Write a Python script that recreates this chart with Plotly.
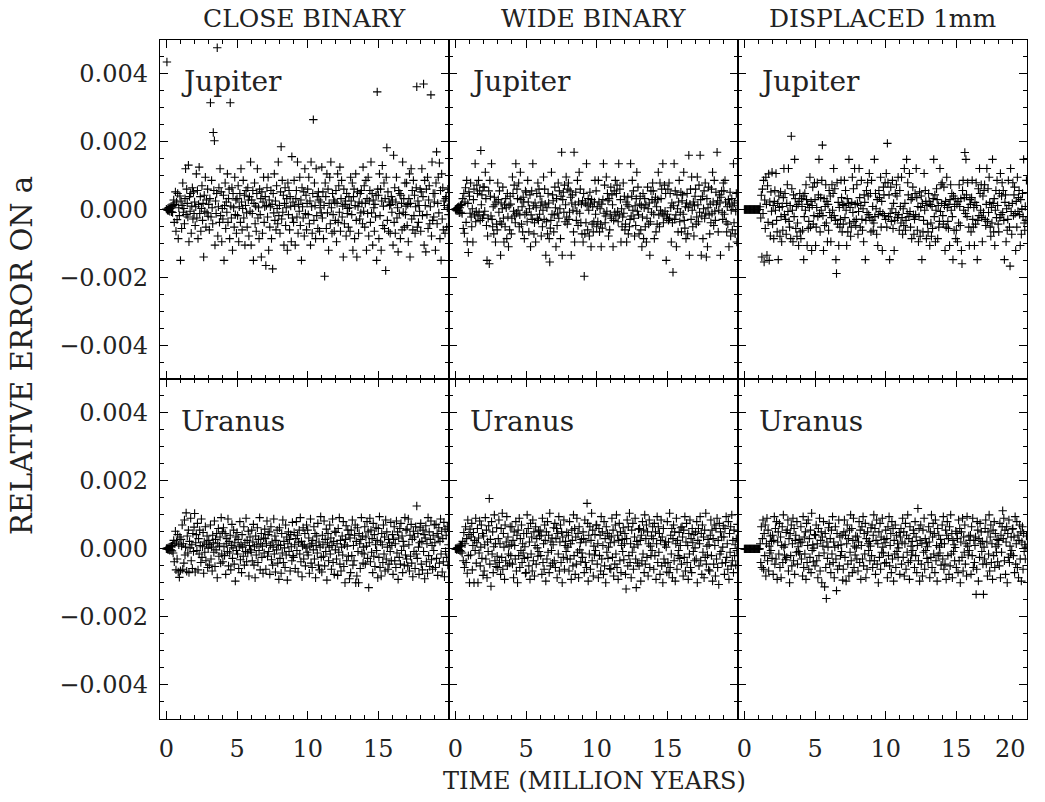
import plotly.graph_objects as go

# ---------------- data (time in Myr, errors in units of 1e-5) ----------------
TIME = [
    0.0, 0.04, 0.08, 0.12, 0.16, 0.2, 0.24, 0.28, 0.32, 0.36, 0.4, 0.44, 0.48, 0.52, 0.56, 0.6, 0.64, 0.68, 0.72, 0.76, 0.8, 0.84, 0.88, 0.92, 0.96,
    1.0, 1.04, 1.08, 1.12, 1.16, 1.2, 1.24, 1.28, 1.32, 1.36, 1.4, 1.44, 1.48, 1.52, 1.56, 1.6, 1.64, 1.68, 1.72, 1.76, 1.8, 1.84, 1.88, 1.92, 1.96,
    2.0, 2.04, 2.08, 2.12, 2.16, 2.2, 2.24, 2.28, 2.32, 2.36, 2.4, 2.44, 2.48, 2.52, 2.56, 2.6, 2.64, 2.68, 2.72, 2.76, 2.8, 2.84, 2.88, 2.92, 2.96,
    3.0, 3.04, 3.08, 3.12, 3.16, 3.2, 3.24, 3.28, 3.32, 3.36, 3.4, 3.44, 3.48, 3.52, 3.56, 3.6, 3.64, 3.68, 3.72, 3.76, 3.8, 3.84, 3.88, 3.92, 3.96,
    4.0, 4.04, 4.08, 4.12, 4.16, 4.2, 4.24, 4.28, 4.32, 4.36, 4.4, 4.44, 4.48, 4.52, 4.56, 4.6, 4.64, 4.68, 4.72, 4.76, 4.8, 4.84, 4.88, 4.92, 4.96,
    5.0, 5.04, 5.08, 5.12, 5.16, 5.2, 5.24, 5.28, 5.32, 5.36, 5.4, 5.44, 5.48, 5.52, 5.56, 5.6, 5.64, 5.68, 5.72, 5.76, 5.8, 5.84, 5.88, 5.92, 5.96,
    6.0, 6.04, 6.08, 6.12, 6.16, 6.2, 6.24, 6.28, 6.32, 6.36, 6.4, 6.44, 6.48, 6.52, 6.56, 6.6, 6.64, 6.68, 6.72, 6.76, 6.8, 6.84, 6.88, 6.92, 6.96,
    7.0, 7.04, 7.08, 7.12, 7.16, 7.2, 7.24, 7.28, 7.32, 7.36, 7.4, 7.44, 7.48, 7.52, 7.56, 7.6, 7.64, 7.68, 7.72, 7.76, 7.8, 7.84, 7.88, 7.92, 7.96,
    8.0, 8.04, 8.08, 8.12, 8.16, 8.2, 8.24, 8.28, 8.32, 8.36, 8.4, 8.44, 8.48, 8.52, 8.56, 8.6, 8.64, 8.68, 8.72, 8.76, 8.8, 8.84, 8.88, 8.92, 8.96,
    9.0, 9.04, 9.08, 9.12, 9.16, 9.2, 9.24, 9.28, 9.32, 9.36, 9.4, 9.44, 9.48, 9.52, 9.56, 9.6, 9.64, 9.68, 9.72, 9.76, 9.8, 9.84, 9.88, 9.92, 9.96,
    10.0, 10.04, 10.08, 10.12, 10.16, 10.2, 10.24, 10.28, 10.32, 10.36, 10.4, 10.44, 10.48, 10.52, 10.56, 10.6, 10.64, 10.68, 10.72, 10.76, 10.8, 10.84, 10.88, 10.92, 10.96,
    11.0, 11.04, 11.08, 11.12, 11.16, 11.2, 11.24, 11.28, 11.32, 11.36, 11.4, 11.44, 11.48, 11.52, 11.56, 11.6, 11.64, 11.68, 11.72, 11.76, 11.8, 11.84, 11.88, 11.92, 11.96,
    12.0, 12.04, 12.08, 12.12, 12.16, 12.2, 12.24, 12.28, 12.32, 12.36, 12.4, 12.44, 12.48, 12.52, 12.56, 12.6, 12.64, 12.68, 12.72, 12.76, 12.8, 12.84, 12.88, 12.92, 12.96,
    13.0, 13.04, 13.08, 13.12, 13.16, 13.2, 13.24, 13.28, 13.32, 13.36, 13.4, 13.44, 13.48, 13.52, 13.56, 13.6, 13.64, 13.68, 13.72, 13.76, 13.8, 13.84, 13.88, 13.92, 13.96,
    14.0, 14.04, 14.08, 14.12, 14.16, 14.2, 14.24, 14.28, 14.32, 14.36, 14.4, 14.44, 14.48, 14.52, 14.56, 14.6, 14.64, 14.68, 14.72, 14.76, 14.8, 14.84, 14.88, 14.92, 14.96,
    15.0, 15.04, 15.08, 15.12, 15.16, 15.2, 15.24, 15.28, 15.32, 15.36, 15.4, 15.44, 15.48, 15.52, 15.56, 15.6, 15.64, 15.68, 15.72, 15.76, 15.8, 15.84, 15.88, 15.92, 15.96,
    16.0, 16.04, 16.08, 16.12, 16.16, 16.2, 16.24, 16.28, 16.32, 16.36, 16.4, 16.44, 16.48, 16.52, 16.56, 16.6, 16.64, 16.68, 16.72, 16.76, 16.8, 16.84, 16.88, 16.92, 16.96,
    17.0, 17.04, 17.08, 17.12, 17.16, 17.2, 17.24, 17.28, 17.32, 17.36, 17.4, 17.44, 17.48, 17.52, 17.56, 17.6, 17.64, 17.68, 17.72, 17.76, 17.8, 17.84, 17.88, 17.92, 17.96,
    18.0, 18.04, 18.08, 18.12, 18.16, 18.2, 18.24, 18.28, 18.32, 18.36, 18.4, 18.44, 18.48, 18.52, 18.56, 18.6, 18.64, 18.68, 18.72, 18.76, 18.8, 18.84, 18.88, 18.92, 18.96,
    19.0, 19.04, 19.08, 19.12, 19.16, 19.2, 19.24, 19.28, 19.32, 19.36, 19.4, 19.44, 19.48, 19.52, 19.56, 19.6, 19.64, 19.68, 19.72, 19.76, 19.8, 19.84, 19.88, 19.92, 19.96,
]

CLOSE_JUPITER = [
    1, 435, -2, 4, -3, 6, -5, 3, 8, -7, 10, -9, 12, 28, -38, 15, 52, -64, 22, -30, 47, -86, 5, -18, 40,
    -150, 25, -56, 12, 78, -8, 3, -42, 32, 120, -15, 60, 18, -22, 131, -95, 38, -5, 47, -70, 10, 64, -28, 52, -12,
    22, -47, 8, 105, -25, 56, -86, 15, 125, -12, 38, -64, 3, 70, -32, 18, -140, 42, -5, 95, -52, 28, -10, 60, -20,
    15, -60, 32, 315, -22, 86, 5, -42, 227, 56, 203, -105, 25, -12, 47, 477, -78, 8, 64, -38, 120, -18, 52, -95, 3,
    -28, 42, -150, 12, 78, -56, 22, -8, 105, -38, 32, 60, -86, 315, 10, -25, 64, -120, 47, 5, -52, 95, -15, 28, -70,
    32, -18, 70, -95, 8, 47, -38, 120, 22, -60, 3, 86, -25, 42, -105, 12, 56, -10, -52, 64, 28, -78, 38, -5, 140,
    -105, 28, -12, 56, -150, 18, 78, -42, 10, -64, 47, 120, -25, 5, -86, 60, -15, 32, -140, 52, -70, 22, 95, -38, 8,
    38, -165, 12, 64, -22, 95, -120, 28, -52, 8, 56, -86, 15, -175, 47, -10, 105, -32, 25, -60, 70, 3, -42, 140, -18,
    12, -70, 52, 185, -28, 86, -8, 42, -105, 18, 64, -47, 5, 32, -120, 78, -15, 56, -60, 38, 10, -95, 156, -25, 22,
    -38, 86, 10, -105, 32, 56, -22, 140, -70, 15, -5, 95, -47, 28, -150, 64, 8, -25, 52, -78, 120, -12, 42, -60, 18,
    60, -15, 95, -42, 25, -105, 140, 8, -70, 47, 265, -32, 78, 12, -86, 120, -18, 38, -56, 52, 28, -64, 5, 22, -10,
    125, -25, 52, -86, 12, -197, 78, 38, -56, 105, -10, 60, -120, 18, 95, -42, 140, 5, -70, 47, -15, 28, -64, 22, -32,
    56, -95, 18, 105, -38, 70, -8, 125, -64, 32, 86, -22, 10, -140, 60, -42, 15, 25, -78, 47, -12, 3, -52, 38, 5,
    -64, 95, 25, -15, 78, -120, 38, 60, -86, 12, 105, -32, -140, 52, 8, -70, 22, -28, 47, -10, 56, 18, -42, 125, -5,
    70, -52, 18, 86, -120, 32, -12, 95, -78, 25, 56, -38, 140, -10, 47, -105, 28, 5, -64, 15, -22, 42, -150, 347, 60,
    42, -86, 105, -18, 60, -120, 25, 130, -47, 10, 78, -56, 32, -180, 95, 182, -32, 52, -64, 22, 12, -70, 15, 38, -8,
    28, -105, 160, -38, 64, -70, 22, 95, -25, 5, -125, 56, -12, 47, -86, 42, 18, -60, 140, -8, 32, -52, 78, -15, 10,
    78, -47, 15, -95, 32, 105, -140, 18, 120, -28, 56, -60, 86, -18, 42, -70, 8, 64, 362, -52, 25, -38, 12, -5, 60,
    -64, 52, 120, -18, 38, 370, -105, 86, 12, -125, 60, -15, 95, -56, 28, 70, -42, 8, 338, -78, 140, -32, 47, -22, 22,
    47, -120, 78, 170, -42, 18, 95, -10, 137, -86, 56, -150, 105, -28, 64, -60, 25, 12, -70, 32, 38, -52, 5, 60, -15,
]

WIDE_JUPITER = [
    1, -2, 3, -4, 6, -3, 8, -10, 5, 12, -8, 15, -12, 32, -56, 47, -70, 22, 64, -38, 86, -95, 18, -127, 52,
    39, -11, 78, -22, -51, 2, -96, 29, 60, -16, 135, -36, -5, 72, 47, -19, 86, -8, 55, -32, 174, 14, 43, -26, 66,
    -16, 66, -5, 110, 32, -47, -150, -78, -26, 55, -160, 86, 39, -19, 135, -29, -51, 8, -72, 36, 14, -96, 22, -43, -60,
    78, 29, -8, 55, -36, -135, 19, -43, 2, 66, -26, -96, 14, -51, 32, 5, -86, 47, -22, -110, 11, -60, 39, 16, -72,
    -26, 96, 47, -5, 72, -19, -39, 135, -11, 60, 32, -2, 78, -51, -16, 110, 29, -43, 8, -66, 36, 22, -86, -14, 55,
    51, -8, -36, 86, 22, -66, 2, 43, -110, -16, 55, -29, 135, 11, -72, -39, 19, -96, 5, 47, -26, 78, -32, 60, -14,
    39, 11, -78, 22, -51, -2, 96, -29, 60, 16, -135, -36, 5, -72, 47, 19, -86, -155, -55, -32, 110, -14, 43, 26, -66,
    -16, 66, 5, -110, 32, -47, -11, 78, -26, 55, 2, -86, 39, 169, -135, 29, 51, -8, 72, -36, 14, 96, -22, -43, 60,
    78, -29, -8, 55, 36, -135, 19, 43, -2, -66, 169, -96, 14, 51, -32, -5, 86, -47, 22, 110, -11, 60, -39, 16, -72,
    26, -96, 47, -197, -72, 19, -39, 135, 11, -60, 32, -2, -78, 51, 16, -110, 29, -43, 8, -66, -36, 22, 86, -14, 55,
    -51, 8, -36, 86, 22, -66, 2, -43, -110, 16, -55, 29, 135, -11, 72, -39, -19, 96, -5, 47, 26, -78, 32, -60, -14,
    66, -26, 43, 14, -110, -32, 55, -8, 86, -19, 47, 72, -5, -36, 135, -16, 60, 29, -96, 2, -51, -22, 78, -11, 39,
    -60, -43, 22, -96, 14, 36, -72, 8, -51, -29, 135, -19, 39, 86, -2, 55, -26, -78, 11, -47, 32, 110, -5, 66, -16,
    -72, 16, 39, -60, 11, -110, -22, 47, -86, 5, 32, -51, 14, -96, -26, 66, 2, -43, 19, -135, -36, 55, -8, 29, 78,
    55, -14, -86, 22, 36, -66, 8, -43, 29, 110, -16, -51, 78, -2, 32, 60, -11, 135, -39, -19, 72, -5, 47, -150, -26,
    -14, 60, -32, 78, -26, 47, 5, -96, 19, -39, -185, 11, 135, -29, 55, -16, -110, 43, 2, -66, 22, 86, -36, -8, 51,
    -66, 26, 43, -14, 110, -32, -55, 8, -86, 19, 47, -72, 5, 160, -135, 16, 60, -29, 96, -2, -51, 22, -78, 11, 39,
    60, -43, -22, 96, 14, -36, 72, -8, 160, 29, -135, -19, 39, -86, 2, 55, -26, 78, -11, -140, 32, -110, 5, 66, -16,
    -72, 16, -39, 60, -11, 110, 22, -47, 86, -5, -32, 51, 14, 169, 26, -66, -2, 43, 19, -135, 36, 55, -8, -29, 78,
    55, -14, 86, 22, -36, -66, 8, -43, 29, -110, 16, 51, -78, -2, 32, -60, 11, 135, -39, 19, -72, -5, 47, -96, 26,
]

DISPLACED_JUPITER = [
    0, 0, 0, 0, 0, 0, 0, 0, 0, 0, 0, 0, 0, 0, 0, 0, 0, 0, 0, 0, 0, 0, 0, 0, 0,
    0, 0, 0, 8, -25, 42, -140, 60, -12, 86, -155, 28, -56, 95, 15, -135, 70, -38, 105, -150, 22, -78, 52, -5, 110,
    -43, 12, -86, 24, 56, -2, 106, -32, -66, 18, -148, 40, 6, -79, 52, -21, -95, 9, -61, 35, 121, -15, 47, -29, -73,
    18, 73, -6, 121, -35, -52, 12, -86, 216, 61, -2, -95, 43, -21, 148, 32, -56, 9, -79, -40, 15, -106, 24, 47, -66,
    -86, 32, 9, -61, 40, -148, -21, 47, -2, 73, 29, -106, 15, -56, -35, 6, 95, -52, 24, -121, 12, 66, -43, -18, 79,
    29, -106, -52, 6, 79, -21, 43, 148, -12, -66, 35, -2, 86, 190, -18, -121, 32, -47, 9, 73, -40, 24, -95, 15, -61,
    56, -9, 40, -95, -24, 73, -2, 47, 121, -18, 61, -32, -148, -189, 79, -43, 21, -106, 6, -52, -29, 86, 35, -66, 15,
    -43, 12, 86, -24, 56, -2, -106, 32, -66, 18, 148, -40, 6, -79, -52, 21, 95, -9, 61, -35, 121, 15, -47, -29, 73,
    18, -73, -6, 121, 35, -52, 12, 86, -29, -61, 2, -95, 43, 21, -148, -32, 56, -9, 79, 40, -15, 106, -24, 47, -66,
    86, -32, 9, -61, -40, 148, -21, 47, 2, -73, 29, -106, -15, 56, 35, -6, 95, -52, 24, -121, -12, 66, 43, -18, 79,
    -29, 106, -52, 195, 79, -21, 43, -148, -12, 66, -35, 2, 86, -56, 18, -121, -32, 47, -9, 73, 40, -24, 95, -15, -61,
    56, 9, -40, 95, -24, -73, 2, -47, 121, 18, -61, -32, 148, -12, 79, 43, -21, 106, -6, -52, 29, -86, 35, 66, -15,
    -73, -29, 47, -15, 121, 35, -61, 9, -95, -21, 52, -79, 6, 40, -148, 18, -66, -32, 106, -2, 56, 24, -86, 12, -43,
    -66, 47, 24, -106, 15, -40, -79, 9, -56, 32, 148, -21, 43, -95, -2, 61, 29, -86, 12, -52, -35, 121, -6, 73, 18,
    79, -18, -43, 66, 12, -121, 24, -52, 95, 6, -35, -56, 15, -106, 29, 73, -2, 47, -21, -148, 40, -61, 9, 32, -86,
    -61, 15, -95, 24, -40, 73, 9, -47, 32, -121, -160, 56, 86, -2, 35, 168, -12, 148, 43, -21, 79, 6, -52, -106, 29,
    15, -66, 35, 86, -29, -52, 6, -106, 21, -43, 79, 12, -148, -32, 61, -18, 121, 47, -2, 73, -24, -95, 40, -9, 56,
    73, -29, -47, 15, 121, -35, 61, -9, 95, 21, -52, -79, 6, -40, 148, 18, -66, 32, -106, -2, 56, -24, 86, 12, -43,
    -66, 47, -24, 106, -15, 40, 79, -9, 56, -32, -148, 21, 43, -95, 2, -61, -29, 86, 12, -52, -167, 121, -6, -73, 18,
    79, -18, 43, 66, -12, -121, 24, -52, 95, -6, 35, 56, -15, -106, 29, -73, 2, 47, -21, 148, -40, -61, 9, -32, 86,
]

CLOSE_URANUS = [
    0, 2, -1, 3, -2, 5, -4, 6, -3, 8, -6, 10, -12, 25, -38, 15, 52, -62, 20, -30, 42, -68, 12, -84, 35,
    -64, 28, 8, 70, -60, 15, -42, 85, -18, 5, 106, -66, 38, -12, 55, -70, 22, 3, 90, -35, 12, -58, 45, -8, 64,
    104, -68, 18, 42, -5, 75, -62, 30, -15, 55, 10, -40, 88, -25, 6, 48, -72, 20, -10, 65, -35, 14, 38, -55, 2,
    25, -48, 12, 70, -30, 5, -65, 40, 18, -10, 82, -52, 28, -3, 45, -85, 15, 60, -22, 8, 35, -42, 92, -15, 50,
    -38, 62, 6, -20, 45, -75, 15, 30, -8, 88, -50, 22, -12, 40, -62, 10, 72, -28, 3, 55, -45, 18, -95, 35, -5,
    48, -15, 28, -58, 8, 80, -32, 12, -70, 42, 5, -22, 65, -48, 18, -8, 90, -38, 25, -12, 52, -80, 10, 35, -3,
    -10, 55, -35, 20, 72, -48, 6, -85, 38, -18, 12, 62, -40, 28, -5, 92, -62, 15, 45, -25, 8, -72, 32, -12, 58,
    30, -60, 15, 82, -22, 42, -8, 50, -75, 10, 65, -32, 20, -48, 5, 88, -15, 38, -68, 25, -3, 55, -42, 12, -90,
    62, -28, 10, -72, 45, -12, 85, -40, 22, 3, -55, 70, -18, 35, -92, 15, 50, -8, 28, -65, 42, 6, -35, 78, -20,
    -25, 48, 12, -58, 30, 80, -5, 40, -68, 18, 55, -15, 92, -38, 22, -82, 8, 62, -30, 12, 45, -50, 3, 70, -10,
    55, -18, 32, -72, 8, 88, -42, 15, -55, 25, -3, 65, -30, 45, -85, 10, 38, -12, 75, -48, 20, -62, 5, 95, -25,
    -68, 40, 12, -22, 82, -50, 28, -8, 58, -92, 18, 45, -35, 5, 70, -15, 32, -60, 10, 88, -40, 22, -75, 52, -3,
    48, -30, 15, -78, 60, -10, 92, -45, 25, -65, 5, 38, -18, 80, -52, 12, -100, 28, 68, -35, 8, 55, -22, 42, -88,
    32, -70, 55, -20, 85, -48, 10, -35, 40, 70, -100, 22, -80, 62, -8, -100, 45, 15, -58, 28, 92, -12, 38, -42, 5,
    -15, 65, -45, 35, 8, 80, -28, 50, -114, 18, 90, -38, 55, -10, 30, -70, 75, -22, 42, -52, 12, 62, -5, 25, -85,
    60, -25, 95, -55, 20, -80, 45, 12, -40, 70, -15, 35, -65, 85, -30, 50, 5, -60, 28, -45, 18, -8, 78, -35, 10,
    42, -75, 28, 65, -35, 15, -55, 82, -12, 50, -90, 32, -25, 60, -45, 75, -5, 38, -70, 22, 8, -48, 92, -18, 55,
    -30, 58, -50, 88, 12, -65, 40, -22, 72, -42, 28, -82, 52, -8, 35, -58, 65, -15, 126, -28, 45, 5, -75, 18, 62,
    75, -45, 22, -62, 55, -8, 42, -88, 32, 68, -38, 15, -72, 92, -20, 50, -52, 28, 82, -32, 10, -60, 40, -5, 70,
    18, -55, 72, -28, 45, -78, 35, 62, -42, 22, 88, -15, 52, -68, 30, -38, 78, -82, 58, -8, 40, -25, 65, -48, 12,
]

WIDE_URANUS = [
    0, 1, -2, 3, -1, 4, -3, 6, -5, 8, -7, 10, -12, 22, -35, 48, -55, 15, 65, -40, 30, -72, 85, -20, 42,
    -100, 58, -18, 35, 75, -62, 10, 48, -100, 25, -5, 90, -42, 18, 60, -100, 32, -12, 82, -50, 5, 70, -28, 45, -78,
    38, -65, 12, 92, -30, 55, -85, 20, -8, 68, 148, -45, 28, -110, 80, -15, 50, -70, 6, 100, -35, 15, -52, 62, -22,
    -55, 30, 85, -40, 15, -75, 60, -25, 105, -60, 45, 5, -90, 70, -35, 20, 95, -50, 35, -15, 8, -42, 65, -20, 12,
    65, -45, 25, -85, 50, 10, -30, 80, -65, 40, -100, 55, -20, 90, -55, 30, -5, 70, -40, 15, -12, 45, -28, 6, -72,
    -70, 45, 100, -25, 60, -50, 20, -90, 75, -15, 35, -65, 85, -35, 50, -80, 10, 65, -45, 30, 3, -22, 52, -8, 38,
    55, -20, 40, -75, 90, -40, 15, -60, 70, 25, -95, 50, -30, 80, -10, 40, -70, 105, -50, 20, -5, 32, -42, 12, 62,
    -35, 75, -55, 30, 60, -85, 45, -15, 95, -65, 20, 70, -40, 50, -100, 35, -25, 85, -60, 10, 22, -8, 48, -30, 5,
    40, -65, 80, -30, 15, -90, 55, 25, -50, 100, -20, 60, -75, 35, -45, 90, -10, 45, -85, 65, -3, 18, -38, 28, -12,
    -25, 50, 30, -70, 85, -40, 20, -55, 134, 75, -95, 40, -15, 65, -60, 25, 105, -35, 55, -80, 8, -18, 42, -5, 70,
    70, -45, 15, -85, 60, -20, 40, -65, 95, -30, 50, 10, -75, 80, -50, 30, -100, 65, -10, 45, -28, 5, 38, -58, 18,
    -60, 35, 90, -25, 55, -80, 20, -45, 70, -15, 100, -55, 40, -90, 25, 75, -35, 50, -70, 10, 28, -8, 62, -32, 15,
    45, -75, -118, 30, 85, -50, 65, -20, 105, -40, 15, -85, 55, -10, 75, -60, 5, 35, 90, -30, -114, 22, -42, 12, 58,
    -50, 60, 25, -95, 40, -35, 80, -15, 55, -70, 100, -45, 30, 70, -25, 50, -80, 15, 85, -55, 8, -20, 38, -5, 65,
    30, -60, 75, -20, 50, -90, 15, 95, -40, 65, -10, 45, -75, 25, 85, -50, 35, -100, 60, -30, 12, -42, 20, 5, -68,
    80, -40, 20, -70, 105, -55, 40, -15, 60, -85, 30, 70, -35, 50, -95, 15, 90, -60, 25, -20, -5, 48, -28, 10, 62,
    -45, 65, 35, -80, 55, -25, 95, -65, 20, 75, -40, 10, -90, 45, -15, 85, -55, 30, -70, 60, 18, -8, 42, -35, 3,
    50, -30, 80, -100, 25, 60, -50, 15, 95, -35, 45, -75, 70, -10, 35, -85, 55, -25, 105, -45, 8, -18, 28, -62, 12,
    -65, 40, 85, -20, 55, -95, 30, -45, 70, 10, -80, 60, -30, 90, -55, 25, -105, 75, -15, 50, -8, 35, -42, 5, 68,
    35, -75, 60, -40, 95, -25, 15, -60, 80, -90, 45, -10, 65, -50, 100, -35, 25, -70, 55, -20, 12, -48, 30, -5, 72,
]

DISPLACED_URANUS = [
    0, 0, 0, 0, 0, 0, 0, 0, 0, 0, 0, 0, 0, 0, 0, 0, 0, 0, 0, 0, 0, 0, 0, 0, 0,
    0, 0, 0, 15, -40, 65, -55, 30, 85, -60, 45, -20, 70, -80, 15, 90, -35, 55, -65, 8, -12, 38, -5, 22, -28,
    40, -75, 25, 95, -45, 60, -30, 80, -90, 20, 50, -15, 75, -55, 35, -85, 10, 65, -40, 100, 5, -18, 12, -32, 48,
    -25, 55, 85, -65, 30, -100, 45, -20, 70, -50, 15, 90, -35, 60, -75, 25, 40, -10, 80, -45, 6, -8, 28, -15, 18,
    65, -30, 20, -80, 95, -55, 35, -15, 50, -90, 75, -40, 10, 85, -60, 30, -25, 55, -70, 105, -5, 12, -38, 2, 42,
    -50, 40, 70, -35, 15, -85, 60, -20, 90, -65, 25, 50, -100, 35, 8, 80, -12, -112, 45, -55, -146, 20, -28, 5, 62,
    75, -45, 30, -70, 55, -15, 95, -40, 20, -85, 5, 65, -30, -123, 45, -60, 10, 85, -50, 35, -20, 12, -8, 40, -92,
    -60, 50, 85, -25, 40, -95, 15, 70, -45, 30, -80, 55, -10, 100, -35, 60, -70, 25, 90, -55, 8, -18, 38, 3, -30,
    35, -65, 20, 80, -40, 55, -90, 10, 65, -30, 95, -50, 45, -15, 75, -85, 30, -60, 50, 15, -5, 22, -35, 8, 62,
    -20, 70, -55, 40, 100, -35, 60, -75, 25, 85, -45, 15, -100, 50, -25, 75, -60, 35, -10, 90, 5, -12, 28, -42, 18,
    55, -40, 30, -85, 65, -20, 95, -50, 10, 45, -70, 80, -30, 60, -95, 25, -15, 70, -55, 40, -8, 15, -25, 3, 48,
    -75, 35, 60, -45, 20, 90, -25, 50, -80, 15, 75, -60, 40, -10, 100, -40, 30, -90, 65, -35, 8, -18, 22, -5, 55,
    45, -55, 80, -20, 35, -70, 10, 119, -35, 60, -95, 25, 70, -45, 15, -80, 55, -10, 90, -60, 30, -5, 18, -28, 6,
    -40, 65, 20, -85, 50, -25, 100, -55, 35, 75, -15, 45, -70, 85, -35, 10, -95, 60, -20, 40, 5, -12, 28, -48, 15,
    70, -30, 95, -60, 15, -45, 55, -90, 40, 80, -20, 30, -75, 65, -50, 100, -15, 45, -85, 25, -8, 12, -35, 4, 52,
    -55, 45, 30, -70, 85, -35, 60, -100, 20, 50, -25, 90, -65, 35, -10, 70, -45, 15, -80, 95, 8, -18, 38, -5, 25,
    40, -75, 65, -20, 90, -55, 25, -40, 10, 35, -134, -60, 80, 55, -95, 30, -25, 75, 15, 50, -8, 22, -45, -134, 5,
    -30, 60, 85, -45, 20, -80, 50, -15, 100, -65, 35, 70, -40, 15, -90, 55, -20, 80, -55, 45, 6, -10, 28, -38, 12,
    25, -50, 75, -85, 40, -10, 65, 112, 30, 90, -35, 55, -75, 20, 65, -100, 45, -25, 85, -40, 8, -15, 35, -5, 58,
    60, -20, 35, -70, 95, -45, 15, 80, -55, 40, -85, 25, 70, -30, 50, -95, 20, 65, -60, 45, -8, 12, -30, 5, 38,
]

Y_UNIT = 1e-5

COLUMN_TITLES = ["CLOSE BINARY", "WIDE BINARY", "DISPLACED 1mm"]
ROW_LABELS = ["Jupiter", "Uranus"]
X_TICKS = [0, 5, 10, 15, 20]
X_TICK_TEXT = ["0", "5", "10", "15", ""]
LAST_X_LABEL = "20"   # drawn separately so it stays inside the page
Y_TICKS = [-0.004, -0.002, 0.0, 0.002, 0.004]
Y_TICK_TEXT = ["\u22120.004", "\u22120.002", "0.000", "0.002", "0.004"]
X_TITLE = "TIME (MILLION YEARS)"
Y_TITLE = "RELATIVE ERROR ON a"

SERIES = [[CLOSE_JUPITER, WIDE_JUPITER, DISPLACED_JUPITER],
          [CLOSE_URANUS, WIDE_URANUS, DISPLACED_URANUS]]

# ---------------- layout geometry ----------------
# the page renders the figure 1030 px wide (viewport minus scrollbar)
W, H = 1030, 802
X_EDGES = [160, 449, 738, 1027]
Y_EDGES = [40, 379, 718.7]
FONT = "DejaVu Serif"
INK = "#222222"


def fx(p):
    return p / W


def fy(p):
    return 1 - p / H


fig = go.Figure()

for r in range(2):
    for c in range(3):
        i = r * 3 + c + 1
        xa = "x" if i == 1 else f"x{i}"
        ya = "y" if i == 1 else f"y{i}"
        vals = SERIES[r][c]
        n = min(len(TIME), len(vals))
        fig.add_trace(go.Scatter(
            x=TIME[:n], y=[v * Y_UNIT for v in vals[:n]],
            mode="markers", xaxis=xa, yaxis=ya,
            marker=dict(symbol="cross-thin", size=6, color="black",
                        line=dict(width=1.1, color="black")),
            showlegend=False, hoverinfo="skip"))

        common = dict(showline=True, linecolor="black", linewidth=1.3, mirror="ticks",
                      ticks="inside", ticklen=8, tickwidth=1.1, tickcolor="black",
                      showgrid=False, zeroline=False,
                      tickfont=dict(family=FONT, size=24, color=INK))
        xaxis = dict(common,
                     domain=[fx(X_EDGES[c]), fx(X_EDGES[c + 1])],
                     anchor=ya, range=[-0.45, 20],
                     tickmode="array", tickvals=X_TICKS, ticktext=X_TICK_TEXT,
                     showticklabels=(r == 1), ticklabelstandoff=8,
                     minor=dict(ticks="inside", ticklen=4, tickwidth=1, tickcolor="black",
                                tick0=0, dtick=1, showgrid=False))
        yaxis = dict(common,
                     domain=[fy(Y_EDGES[r + 1]), fy(Y_EDGES[r])],
                     anchor=xa, range=[-0.005, 0.005],
                     tickmode="array", tickvals=Y_TICKS, ticktext=Y_TICK_TEXT,
                     showticklabels=(c == 0), ticklabelstandoff=6,
                     minor=dict(ticks="inside", ticklen=4, tickwidth=1, tickcolor="black",
                                tick0=0, dtick=0.0005, showgrid=False))
        fig.update_layout(**{("xaxis" if i == 1 else f"xaxis{i}"): xaxis,
                             ("yaxis" if i == 1 else f"yaxis{i}"): yaxis})

annotations = []
for c, title in enumerate(COLUMN_TITLES):
    annotations.append(dict(text=title, x=fx((X_EDGES[c] + X_EDGES[c + 1]) / 2), y=fy(18),
                            xref="paper", yref="paper", xanchor="center", yanchor="middle",
                            showarrow=False, font=dict(family=FONT, size=25, color=INK)))
    for r, lab in enumerate(ROW_LABELS):
        annotations.append(dict(text=lab, x=fx(X_EDGES[c] + 19), y=fy(82 + 339 * r),
                                xref="paper", yref="paper", xanchor="left", yanchor="middle",
                                showarrow=False, font=dict(family=FONT, size=28, color=INK)))
annotations.append(dict(text=LAST_X_LABEL, x=fx(1010), y=fy(749), xref="paper", yref="paper",
                        xanchor="center", yanchor="middle", showarrow=False, borderpad=0,
                        font=dict(family=FONT, size=24, color=INK)))
annotations.append(dict(text=X_TITLE, x=fx(594), y=fy(781), xref="paper", yref="paper",
                        xanchor="center", yanchor="middle", showarrow=False,
                        font=dict(family=FONT, size=24, color=INK)))
annotations.append(dict(text=Y_TITLE, x=fx(22), y=fy(356), xref="paper", yref="paper",
                        xanchor="center", yanchor="middle", showarrow=False, textangle=-90,
                        font=dict(family=FONT, size=29, color=INK)))

fig.update_layout(width=W, height=H, autosize=False, margin=dict(l=0, r=0, t=0, b=0),
                  paper_bgcolor="white", plot_bgcolor="white",
                  annotations=annotations, showlegend=False)

fig.write_html("out.html", config={"responsive": False},
               post_script="document.body.style.margin='0';")
